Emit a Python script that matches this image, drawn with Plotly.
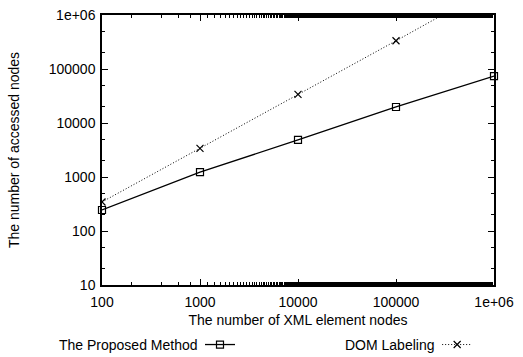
import plotly.graph_objects as go

# Data
x_nodes = [100, 1000, 10000, 100000, 1000000]
proposed = [245, 1230, 4850, 19800, 74000]
dom_labeling = [345, 3400, 34000, 333000, 3400000]
series_names = ["The Proposed Method", "DOM Labeling"]

x_tickvals = [100, 1000, 10000, 100000, 1000000]
x_ticktext = ["100", "1000", "10000", "100000", "1e+06"]
y_tickvals = [10, 100, 1000, 10000, 100000, 1000000]
y_ticktext = ["10", "100", "1000", "10000", "100000", "1e+06"]

FONT = "Liberation Sans, Arial, Helvetica, sans-serif"
FS = 14

fig = go.Figure()
fig.add_trace(go.Scatter(
    x=x_nodes, y=proposed, name=" ", mode="lines+markers",
    line=dict(color="black", width=1.3),
    marker=dict(symbol="square-open", size=7, color="black", line=dict(width=1.2)),
    legend="legend", cliponaxis=False,
))
fig.add_trace(go.Scatter(
    x=x_nodes, y=dom_labeling, name=" ", mode="lines+markers",
    line=dict(color="black", width=1, dash="1px,2px"),
    marker=dict(symbol="x-thin-open", size=7, color="black", line=dict(width=1.2, color="black")),
    legend="legend2", cliponaxis=True,
))

axis_common = dict(
    type="log", showgrid=False, zeroline=False,
    showline=True, linecolor="black", linewidth=1.5, mirror="ticks",
    ticks="inside", ticklen=6, tickwidth=1, tickcolor="black",
    tickfont=dict(family=FONT, size=FS, color="black"),
    minor=dict(ticks="inside", ticklen=3, tickwidth=0.8, tickcolor="black", showgrid=False),
)

fig.update_xaxes(
    **axis_common, range=[2, 6], ticklabelstandoff=3,
    tickvals=x_tickvals, ticktext=x_ticktext,
    title=dict(text="The number of XML element nodes", standoff=7,
               font=dict(family=FONT, size=FS, color="black")),
)
fig.update_yaxes(
    **axis_common, range=[1, 6], ticklabelstandoff=2,
    tickvals=y_tickvals, ticktext=y_ticktext,
    title=dict(text="The number of accessed nodes", standoff=26,
               font=dict(family=FONT, size=FS, color="black")),
)

legend_common = dict(
    orientation="h", yanchor="middle", xanchor="left",
    bgcolor="rgba(0,0,0,0)", itemwidth=30,
    font=dict(family=FONT, size=FS, color="black"),
)
fig.update_layout(
    width=523, height=357,
    margin=dict(l=102, r=29, t=15, b=72, autoexpand=False),
    paper_bgcolor="white", plot_bgcolor="white",
    showlegend=True,
    legend=dict(**legend_common, x=0.25, y=-0.222),
    legend2=dict(**legend_common, x=0.855, y=-0.222),
    annotations=[
        dict(text=series_names[0], xref="paper", yref="paper", x=0.25, y=-0.222,
             xanchor="right", yanchor="middle", showarrow=False,
             font=dict(family=FONT, size=FS, color="black")),
        dict(text=series_names[1], xref="paper", yref="paper", x=0.855, y=-0.222,
             xanchor="right", yanchor="middle", showarrow=False,
             font=dict(family=FONT, size=FS, color="black")),
    ],
)

# remove the default 8px page margin so the figure fills the window exactly
fig.write_html("out.html", config={"displayModeBar": False},
               post_script="document.body.style.margin='0';")
